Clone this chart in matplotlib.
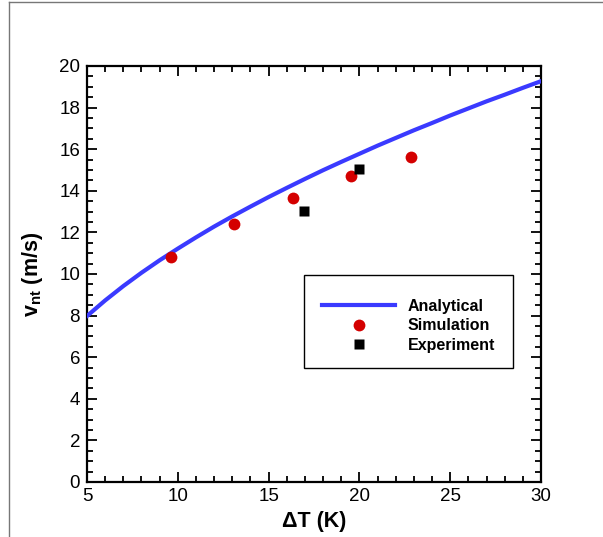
import matplotlib
matplotlib.use("Agg")
import matplotlib.pyplot as plt
from matplotlib.lines import Line2D
from matplotlib.patches import Rectangle
from matplotlib.ticker import MultipleLocator

plt.rcParams['font.family'] = ['Liberation Sans', 'DejaVu Sans']
plt.rcParams['mathtext.fontset'] = 'custom'
plt.rcParams['mathtext.rm'] = 'Liberation Sans'
plt.rcParams['mathtext.bf'] = 'Liberation Sans:bold'

# Analytical curve
ana_x = list(range(5, 31))
ana_y = [7.98, 8.73, 9.42, 10.06, 10.66, 11.22, 11.76, 12.28, 12.77, 13.24,
         13.70, 14.14, 14.57, 14.99, 15.39, 15.78, 16.17, 16.54, 16.91, 17.26,
         17.62, 17.96, 18.30, 18.62, 18.95, 19.27]
# Simulation points
sim_x = [9.63, 13.1, 16.35, 19.54, 22.84]
sim_y = [10.82, 12.4, 13.65, 14.7, 15.62]
# Experiment points
exp_x = [16.95, 19.98]
exp_y = [13.03, 15.05]

fig = plt.figure(figsize=(6.03, 5.37), dpi=100)
ax = fig.add_axes([87/603, 1-482/537, (541-87)/603, (482-66)/537])

ax.plot(ana_x, ana_y, color='#3a3aff', lw=3, label='Analytical', zorder=3)
ax.plot(sim_x, sim_y, 'o', color='#d40000', ms=8.5, mec='none', label='Simulation', zorder=4)
ax.plot(exp_x, exp_y, 's', color='black', ms=7.5, mec='none', label='Experiment', zorder=5)

ax.set_xlim(5, 30)
ax.set_ylim(0, 20)
ax.xaxis.set_major_locator(MultipleLocator(5))
ax.xaxis.set_minor_locator(MultipleLocator(1))
ax.yaxis.set_major_locator(MultipleLocator(2))
ax.yaxis.set_minor_locator(MultipleLocator(0.5))
ax.tick_params(which='both', direction='in', top=True, right=True, width=1.3, labelsize=13.5)
ax.tick_params(which='major', length=7.2)
ax.tick_params(which='minor', length=4.3)
ax.tick_params(axis='x', pad=4)
ax.tick_params(axis='y', pad=5)
for s in ax.spines.values():
    s.set_linewidth(1.6)

ax.set_xlabel('ΔT (K)', fontsize=15.5, fontweight='bold', labelpad=5)
ax.set_ylabel(r'$\mathbf{v}_{\mathbf{nt}}$ (m/s)', fontsize=15.5, fontweight='bold', labelpad=10)

# legend box
bx0 = (304-87)/454; bx1 = (513-87)/454
by0 = (482-368)/416; by1 = (482-275)/416
ax.add_patch(Rectangle((bx0, by0), bx1-bx0, by1-by0, transform=ax.transAxes,
                       fill=True, facecolor='white', edgecolor='black', lw=1.0, zorder=6))
leg = ax.legend(loc='upper left', bbox_to_anchor=((322-87)/454, (482-299)/416),
                frameon=False, handlelength=4.6, handletextpad=0.75, labelspacing=0.28,
                borderpad=0, borderaxespad=0, prop={'weight': 'bold', 'size': 11.5})
leg.set_zorder(7)

# figure frame lines
fig.add_artist(Line2D([9/603, 9/603], [0, 1-2/537], transform=fig.transFigure, color='#777777', lw=1))
fig.add_artist(Line2D([9/603, 1], [1-2/537, 1-2/537], transform=fig.transFigure, color='#777777', lw=1))

fig.savefig('out.png', dpi=100)
